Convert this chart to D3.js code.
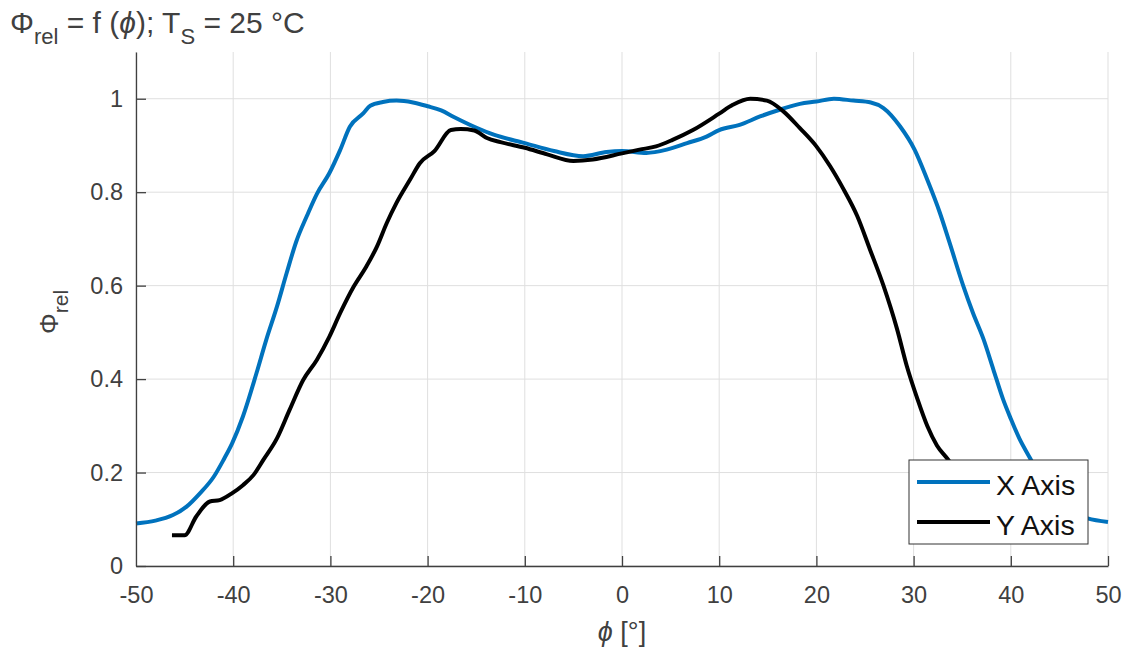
<!DOCTYPE html>
<html>
<head>
<meta charset="utf-8">
<script src="https://cdnjs.cloudflare.com/ajax/libs/d3/7.8.5/d3.min.js"></script>
<style>
	body { margin: 0; background: #fff; }
	text { font-family: "Liberation Sans", Arial, Helvetica, sans-serif; }
</style>
</head>
<body>
<div id="wrapper"></div>
<script>
var width = 1129;
var height = 652;
var margin = {top: 52, right: 21, bottom: 86, left: 136};

// X Axis measurement
var xAxisPhi = [-50, -48, -46.2, -44.8, -43.4, -42, -41, -40.1, -39, -37.6, -36.6, -35.5, -34.5, -33.5, -32.4, -31.4, -30.1, -29, -28, -26.6, -25.9, -24.6, -23.2, -21.5, -20, -18.6, -17.3, -15.2, -13.2, -10, -7, -4, -1.6, 0, 2.5, 4.6, 6.7, 8.7, 10, 12.1, 14.2, 16.3, 18.3, 20, 21.8, 23.8, 25.6, 26.9, 28.6, 30.1, 31.4, 32.7, 33.7, 35.1, 36.1, 37.2, 38.2, 39.2, 40, 40.9, 42, 43, 44, 45, 46, 47, 47.9, 50];
var xAxisRel = [0.091, 0.097, 0.109, 0.127, 0.156, 0.191, 0.227, 0.263, 0.32, 0.413, 0.484, 0.555, 0.627, 0.695, 0.75, 0.796, 0.841, 0.89, 0.94, 0.969, 0.985, 0.993, 0.996, 0.992, 0.984, 0.975, 0.961, 0.94, 0.923, 0.905, 0.888, 0.877, 0.886, 0.888, 0.884, 0.891, 0.905, 0.919, 0.933, 0.944, 0.962, 0.977, 0.989, 0.994, 1.0, 0.996, 0.992, 0.98, 0.941, 0.891, 0.827, 0.756, 0.692, 0.6, 0.542, 0.485, 0.421, 0.357, 0.315, 0.272, 0.23, 0.19, 0.16, 0.135, 0.118, 0.108, 0.102, 0.094];

// Y Axis measurement
var yAxisPhi = [-46.3, -45, -43.8, -42.4, -41.4, -40.1, -39, -37.9, -36.9, -35.5, -34.2, -32.8, -31.4, -30.1, -29, -27.6, -26.3, -25.2, -24.2, -23.2, -21.8, -20.8, -19.3, -17.6, -16.6, -15.2, -13.9, -12.5, -10, -7.7, -5, -3, 0, 1.8, 3.5, 5.2, 7.3, 10, 11.4, 13.2, 14.9, 16.6, 18.3, 20, 21.4, 22.8, 24.2, 25.5, 26.9, 28.3, 29.3, 30.4, 31.4, 32.4, 33.5, 34.5, 36, 37.5, 38.5];
var yAxisRel = [0.066, 0.066, 0.106, 0.138, 0.141, 0.156, 0.173, 0.195, 0.227, 0.273, 0.334, 0.398, 0.441, 0.491, 0.541, 0.598, 0.641, 0.684, 0.734, 0.777, 0.827, 0.862, 0.888, 0.933, 0.935, 0.932, 0.916, 0.907, 0.895, 0.881, 0.867, 0.87, 0.883, 0.891, 0.898, 0.912, 0.933, 0.968, 0.987, 1.0, 0.996, 0.973, 0.937, 0.898, 0.856, 0.806, 0.749, 0.678, 0.6, 0.507, 0.428, 0.357, 0.30, 0.258, 0.229, 0.2, 0.155, 0.11, 0.085];

var xTicks = [-50, -40, -30, -20, -10, 0, 10, 20, 30, 40, 50];
var yTicks = [0, 0.2, 0.4, 0.6, 0.8, 1];

var series = [
	{name: "X Axis", color: "#0072BD", phi: xAxisPhi, rel: xAxisRel},
	{name: "Y Axis", color: "#000000", phi: yAxisPhi, rel: yAxisRel}
];

var axisColor = "#404040";

var svg = d3.select("#wrapper").append("svg")
	.attr("width", width)
	.attr("height", height);

var x = d3.scaleLinear().domain([-50, 50]).range([margin.left, width - margin.right]);
var y = d3.scaleLinear().domain([0, 1.1]).range([height - margin.bottom, margin.top]);

// matlab style labels: plain hyphen, no trailing zeros
var fmt = function(d){ return String(+d.toFixed(1)); };

// grid
svg.append("g").selectAll("line.vgrid").data(xTicks).enter().append("line")
	.attr("x1", function(d){ return x(d); })
	.attr("x2", function(d){ return x(d); })
	.attr("y1", y(0))
	.attr("y2", y(1.1))
	.attr("stroke", "#dfdfdf")
	.attr("stroke-width", 1);

svg.append("g").selectAll("line.hgrid").data(yTicks).enter().append("line")
	.attr("x1", x(-50))
	.attr("x2", x(50))
	.attr("y1", function(d){ return y(d); })
	.attr("y2", function(d){ return y(d); })
	.attr("stroke", "#dfdfdf")
	.attr("stroke-width", 1);

// curves
var line = d3.line()
	.x(function(d){ return x(d[0]); })
	.y(function(d){ return y(d[1]); })
	.curve(d3.curveMonotoneX);

series.forEach(function(s){
	svg.append("path")
		.datum(d3.zip(s.phi, s.rel))
		.attr("d", line)
		.attr("fill", "none")
		.attr("stroke", s.color)
		.attr("stroke-width", 4)
		.attr("stroke-linejoin", "round");
});

// axes (ticks pointing inward)
var xAxis = svg.append("g")
	.attr("transform", "translate(0," + y(0) + ")")
	.call(d3.axisBottom(x).tickValues(xTicks).tickSizeInner(-10).tickSizeOuter(0).tickPadding(20).tickFormat(fmt));

var yAxis = svg.append("g")
	.attr("transform", "translate(" + x(-50) + ",0)")
	.call(d3.axisLeft(y).tickValues(yTicks).tickSizeInner(-10).tickSizeOuter(0).tickPadding(13).tickFormat(fmt));

[xAxis, yAxis].forEach(function(a){
	a.select(".domain").attr("stroke", axisColor).attr("stroke-width", 1.3);
	a.selectAll(".tick line").attr("stroke", axisColor).attr("stroke-width", 1.3);
	a.selectAll(".tick text")
		.attr("fill", axisColor)
		.style("font-size", "23.5px")
		.style("font-family", "'Liberation Sans', Arial, sans-serif");
});
xAxis.selectAll(".tick").filter(function(d){ return d === -50; }).select("line").remove();

// title
var title = svg.append("text")
	.attr("x", 10)
	.attr("y", 33)
	.attr("fill", axisColor)
	.style("font-size", "30px");
title.append("tspan").text("Φ");
title.append("tspan").attr("dy", 11).style("font-size", "22px").text("rel");
title.append("tspan").attr("dy", -11).text(" = f (");
title.append("tspan").style("font-style", "italic").text("ϕ");
title.append("tspan").text("); T");
title.append("tspan").attr("dy", 11).style("font-size", "22px").text("S");
title.append("tspan").attr("dy", -11).text(" = 25 °C");

// y label
var ylab = svg.append("text")
	.attr("transform", "translate(58,334) rotate(-90)")
	.attr("fill", axisColor)
	.style("font-size", "26px");
ylab.append("tspan").text("Φ");
ylab.append("tspan").attr("dy", 10).style("font-size", "21px").text("rel");

// x label
var xlab = svg.append("text")
	.attr("x", x(0))
	.attr("y", 641)
	.attr("text-anchor", "middle")
	.attr("fill", axisColor)
	.style("font-size", "27px");
xlab.append("tspan").style("font-style", "italic").text("ϕ");
xlab.append("tspan").text(" [°]");

// legend
var legend = svg.append("g").attr("transform", "translate(909,460)");
legend.append("rect")
	.attr("width", 179)
	.attr("height", 84)
	.attr("fill", "#fff")
	.attr("stroke", "#333")
	.attr("stroke-width", 1);

series.forEach(function(s, i){
	var row = legend.append("g").attr("transform", "translate(0," + (22 + i * 40) + ")");
	row.append("line")
		.attr("x1", 8)
		.attr("x2", 81)
		.attr("stroke", s.color)
		.attr("stroke-width", 4);
	row.append("text")
		.attr("x", 87)
		.attr("y", 13)
		.attr("fill", "#111")
		.style("font-size", "28.5px")
		.text(s.name);
});
</script>
</body>
</html>
